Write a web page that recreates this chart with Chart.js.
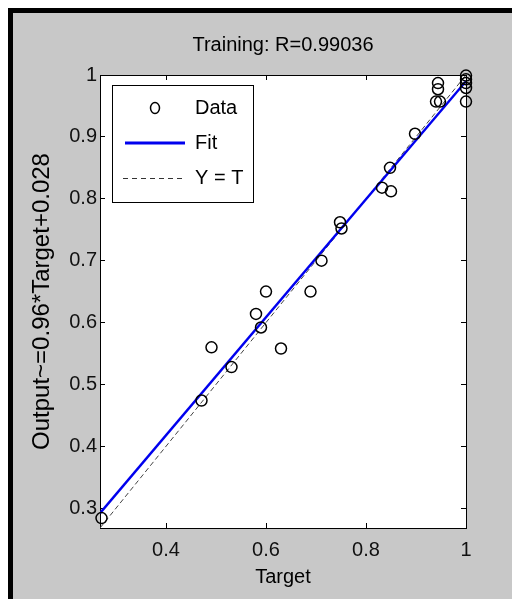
<!DOCTYPE html>
<html>
<head>
<meta charset="utf-8">
<script src="https://cdn.jsdelivr.net/npm/chart.js@4.4.1/dist/chart.umd.min.js"></script>
<style>
  html, body { margin: 0; padding: 0; background: #fff; }
  #wrap { position: relative; width: 512px; height: 599px; overflow: hidden; }
  #frame { position: absolute; left: 8px; top: 8px; width: 600px; height: 700px; background: #c8c8c8; border-left: 5px solid #000; border-top: 5px solid #000; }
  #chart { position: absolute; left: 0; top: 0; }
</style>
</head>
<body>
<div id="wrap">
  <div id="frame"></div>
  <canvas id="chart" width="512" height="599"></canvas>
</div>
<script>
// values
const targets = [0.271, 0.471, 0.491, 0.531, 0.580, 0.590, 0.600, 0.630, 0.689, 0.711,
                 0.748, 0.751, 0.832, 0.848, 0.850, 0.898, 0.940, 0.948, 0.944, 0.944,
                 1, 1, 1, 1, 1];
const outputs = [0.284, 0.474, 0.560, 0.528, 0.614, 0.592, 0.650, 0.558, 0.650, 0.700,
                 0.762, 0.752, 0.818, 0.850, 0.812, 0.905, 0.957, 0.957, 0.977, 0.987,
                 0.957, 0.979, 0.987, 0.993, 0.999];
const fitX = [0.268, 1];
const fitY = [0.292, 0.99];
const identX = [0.268, 1];
const identY = [0.268, 1];
const xTicks = [0.4, 0.6, 0.8, 1];
const yTicks = [0.3, 0.4, 0.5, 0.6, 0.7, 0.8, 0.9, 1];
const axisMin = 0.268;
const axisMax = 1;

const toPoints = (xs, ys) => xs.map((x, i) => ({x: x, y: ys[i]}));

Chart.defaults.font.family = "'Liberation Sans', Arial, sans-serif";
Chart.defaults.color = '#000';

// small canvases used as legend symbols
function icon(w, h, paint) {
  const c = document.createElement('canvas');
  c.width = w;
  c.height = h;
  paint(c.getContext('2d'));
  return c;
}
const dataIcon = icon(36, 16, g => {
  g.strokeStyle = '#000';
  g.lineWidth = 1.5;
  g.beginPath();
  g.ellipse(23, 8, 4.5, 5.5, 0, 0, Math.PI * 2);
  g.stroke();
});
const fitIcon = icon(80, 8, g => {
  g.strokeStyle = '#0000ee';
  g.lineWidth = 3;
  g.beginPath();
  g.moveTo(15, 4);
  g.lineTo(75, 4);
  g.stroke();
});
const identIcon = icon(80, 8, g => {
  g.strokeStyle = '#333';
  g.lineWidth = 1;
  g.setLineDash([5, 4]);
  g.beginPath();
  g.moveTo(13, 4.5);
  g.lineTo(74, 4.5);
  g.stroke();
});

const plotBackground = {
  id: 'plotBackground',
  beforeDraw(chart) {
    const {ctx, chartArea: a} = chart;
    ctx.save();
    ctx.fillStyle = '#fff';
    ctx.fillRect(a.left, a.top, a.right - a.left, a.bottom - a.top);
    ctx.strokeStyle = '#000';
    ctx.lineWidth = 1;
    ctx.strokeRect(a.left + 12.5, a.top + 10.5, 141, 117);
    ctx.restore();
  }
};

const tickLabel = v => String(v);
const gridOpts = { drawOnChartArea: false, drawTicks: true, tickLength: -5, color: '#000', lineWidth: 1 };
const borderOpts = { color: '#000', width: 1 };

new Chart(document.getElementById('chart'), {
  type: 'scatter',
  data: {
    datasets: [{
      label: 'Data',
      data: toPoints(targets, outputs),
      showLine: false,
      pointStyle: 'circle',
      pointRadius: 5.5,
      pointBorderWidth: 1.5,
      pointBackgroundColor: 'rgba(0,0,0,0)',
      borderColor: '#000',
      clip: false,
      order: 0
    }, {
      label: 'Fit',
      data: toPoints(fitX, fitY),
      showLine: true,
      borderColor: '#0000ee',
      borderWidth: 2.5,
      pointRadius: 0,
      order: 1
    }, {
      label: 'Y = T',
      data: toPoints(identX, identY),
      showLine: true,
      borderColor: '#444',
      borderWidth: 1,
      borderDash: [5, 3],
      pointRadius: 0,
      order: 2
    }]
  },
  options: {
    responsive: false,
    animation: false,
    devicePixelRatio: 1,
    events: [],
    layout: {
      padding: { left: 0, right: 46, top: 0, bottom: 0 }
    },
    scales: {
      x: {
        type: 'linear',
        position: 'bottom',
        min: axisMin,
        max: axisMax,
        afterBuildTicks: s => { s.ticks = xTicks.map(v => ({value: v})); },
        afterFit: s => { s.height = 71; },
        ticks: { padding: 15, color: '#111', font: { size: 20 }, callback: tickLabel, maxRotation: 0, autoSkip: false },
        grid: gridOpts,
        border: borderOpts,
        title: { display: true, text: 'Target', color: '#000', font: { size: 20 }, padding: { top: 0, bottom: 10 } }
      },
      x2: {
        type: 'linear',
        position: 'top',
        min: axisMin,
        max: axisMax,
        afterBuildTicks: s => { s.ticks = xTicks.map(v => ({value: v})); },
        afterFit: s => { s.height = 0; },
        ticks: { display: false },
        grid: gridOpts,
        border: borderOpts
      },
      y: {
        type: 'linear',
        position: 'left',
        min: axisMin,
        max: axisMax,
        afterBuildTicks: s => { s.ticks = yTicks.map(v => ({value: v})); },
        afterFit: s => { s.width = 100; },
        ticks: { padding: 8, color: '#111', font: { size: 20 }, callback: tickLabel, autoSkip: false },
        grid: gridOpts,
        border: borderOpts,
        title: { display: true, text: 'Output~=0.96*Target+0.028', color: '#000', font: { size: 24 }, padding: { top: 28, bottom: 0 } }
      },
      y2: {
        type: 'linear',
        position: 'right',
        min: axisMin,
        max: axisMax,
        afterBuildTicks: s => { s.ticks = yTicks.map(v => ({value: v})); },
        afterFit: s => { s.width = 0; },
        ticks: { display: false },
        grid: gridOpts,
        border: borderOpts
      }
    },
    plugins: {
      title: {
        display: true,
        text: 'Training: R=0.99036',
        fullSize: false,
        color: '#000',
        font: { size: 20, weight: 'normal' },
        padding: { top: 33, bottom: 18 }
      },
      legend: {
        position: 'chartArea',
        align: 'start',
        onClick: null,
        // empty title only pushes the items down into the legend frame
        title: { display: true, text: ' ', font: { size: 5, lineHeight: 1 }, padding: { top: 0, bottom: 78 } },
        labels: {
          usePointStyle: true,
          pointStyleWidth: 70,
          padding: 15,
          color: '#000',
          font: { size: 20 },
          generateLabels: () => [
            { text: 'Data', pointStyle: dataIcon, datasetIndex: 0, fontColor: '#000', hidden: false },
            { text: 'Fit', pointStyle: fitIcon, datasetIndex: 1, fontColor: '#000', hidden: false },
            { text: 'Y = T', pointStyle: identIcon, datasetIndex: 2, fontColor: '#000', hidden: false }
          ]
        }
      },
      tooltip: { enabled: false }
    }
  },
  plugins: [plotBackground]
});
</script>
</body>
</html>
